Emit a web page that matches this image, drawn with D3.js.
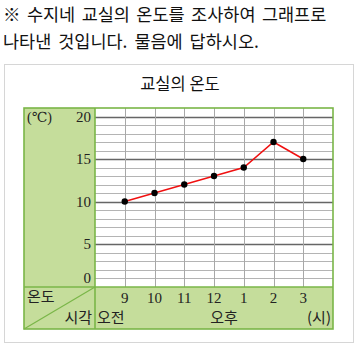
<!DOCTYPE html>
<html>
<head>
<meta charset="utf-8">
<script src="https://cdn.jsdelivr.net/npm/d3@7"></script>
<style>
  body { margin: 0; background: #fff; }
  svg { display: block; }
  .kr { font-family: "Noto Sans CJK KR", "Noto Sans", sans-serif; }
  .num { font-family: "Liberation Serif", "DejaVu Serif", serif; }
</style>
</head>
<body>
<svg id="chart" width="357" height="344"></svg>
<script>
// data
var hours = ["9", "10", "11", "12", "1", "2", "3"];
var temps = [10, 11, 12, 13, 14, 17, 15];
var yTicks = [0, 5, 10, 15, 20];

var svg = d3.select("#chart");

var green = "#c5dd9b", greenLine = "#7ab648";
var left = 24, plotL = 95, plotR = 333, plotT = 108, plotB = 287, stripB = 329;

// question text
svg.append("text").attr("class", "kr").attr("x", 3).attr("y", 21)
  .attr("font-size", 17.5).attr("word-spacing", 2.5).attr("fill", "#111")
  .text("※ 수지네 교실의 온도를 조사하여 그래프로");
svg.append("text").attr("class", "kr").attr("x", 3).attr("y", 48)
  .attr("font-size", 17.5).attr("word-spacing", 3).attr("fill", "#111")
  .text("나타낸 것입니다. 물음에 답하시오.");

// outer frame
svg.append("rect").attr("x", 4.5).attr("y", 64.5).attr("width", 349).attr("height", 278)
  .attr("fill", "#fff").attr("stroke", "#d6d6d6");

svg.append("text").attr("class", "kr").attr("x", 180).attr("y", 90)
  .attr("text-anchor", "middle").attr("font-size", 16.5).attr("fill", "#111")
  .text("교실의 온도");

// green panels
svg.append("rect").attr("x", left).attr("y", plotT).attr("width", plotL - left).attr("height", stripB - plotT)
  .attr("fill", green);
svg.append("rect").attr("x", plotL).attr("y", plotB).attr("width", plotR - plotL).attr("height", stripB - plotB)
  .attr("fill", green);

// scales: the axis is broken below 5, so "0" sits one step under 1
var y = d3.scaleLinear().domain([0, 21]).range([plotB - 0.5, plotT]);
var yPos = function (v) { return v === 0 ? y(1) : y(v); };
var x = d3.scalePoint().domain(hours).range([plotL, plotR]).padding(1);

// horizontal grid
var g = svg.append("g");
d3.range(1, 21).forEach(function (v) {
  var major = v % 5 === 0;
  g.append("line")
    .attr("x1", plotL).attr("x2", plotR)
    .attr("y1", Math.round(y(v)) + 0.5).attr("y2", Math.round(y(v)) + 0.5)
    .attr("stroke", major ? "#666" : "#b4b4b4")
    .attr("stroke-width", major ? 1.4 : 1);
});
// vertical grid
g.selectAll(".vline").data(hours).enter().append("line")
  .attr("x1", function (d) { return Math.round(x(d)) + 0.5; })
  .attr("x2", function (d) { return Math.round(x(d)) + 0.5; })
  .attr("y1", plotT).attr("y2", plotB)
  .attr("stroke", "#a8a8a8");

// y labels
svg.selectAll(".ylab").data(yTicks).enter().append("text")
  .attr("class", "num")
  .attr("x", 91).attr("y", function (d) { return yPos(d) + 5; })
  .attr("text-anchor", "end").attr("font-size", 15).attr("fill", "#222")
  .text(function (d) { return d; });
svg.append("text").attr("class", "num").attr("x", 27).attr("y", 122)
  .attr("font-size", 14).attr("fill", "#222").text("(℃)");

// x labels
svg.selectAll(".xlab").data(hours).enter().append("text")
  .attr("class", "num")
  .attr("x", function (d) { return x(d); }).attr("y", 303)
  .attr("text-anchor", "middle").attr("font-size", 15).attr("fill", "#222")
  .text(function (d) { return d; });
svg.append("text").attr("class", "kr").attr("x", 97).attr("y", 323)
  .attr("font-size", 15).attr("fill", "#222").text("오전");
svg.append("text").attr("class", "kr").attr("x", 224).attr("y", 323)
  .attr("text-anchor", "middle").attr("font-size", 15).attr("fill", "#222").text("오후");
svg.append("text").attr("class", "kr").attr("x", 331).attr("y", 323)
  .attr("text-anchor", "end").attr("font-size", 15).attr("fill", "#222").text("(시)");
svg.append("text").attr("class", "kr").attr("x", 27).attr("y", 302)
  .attr("font-size", 15).attr("fill", "#222").text("온도");
svg.append("text").attr("class", "kr").attr("x", 92).attr("y", 323)
  .attr("text-anchor", "end").attr("font-size", 15).attr("fill", "#222").text("시각");

// panel borders
var b = svg.append("g").attr("stroke", greenLine).attr("stroke-width", 1.6).attr("fill", "none");
b.append("rect").attr("x", left).attr("y", plotT).attr("width", plotR - left).attr("height", stripB - plotT);
b.append("line").attr("x1", plotL).attr("x2", plotL).attr("y1", plotT).attr("y2", stripB);
b.append("line").attr("x1", left).attr("x2", plotR).attr("y1", plotB).attr("y2", plotB);
b.append("line").attr("x1", left).attr("x2", plotL).attr("y1", stripB).attr("y2", plotB).attr("stroke-width", 1.2);

// line and points
var pts = hours.map(function (h, i) { return [x(h), y(temps[i])]; });
svg.append("path").attr("d", d3.line()(pts))
  .attr("fill", "none").attr("stroke", "#f01010").attr("stroke-width", 1.5);
svg.selectAll(".dot").data(pts).enter().append("circle")
  .attr("cx", function (d) { return d[0]; }).attr("cy", function (d) { return d[1]; })
  .attr("r", 3.2).attr("fill", "#000");
</script>
</body>
</html>
